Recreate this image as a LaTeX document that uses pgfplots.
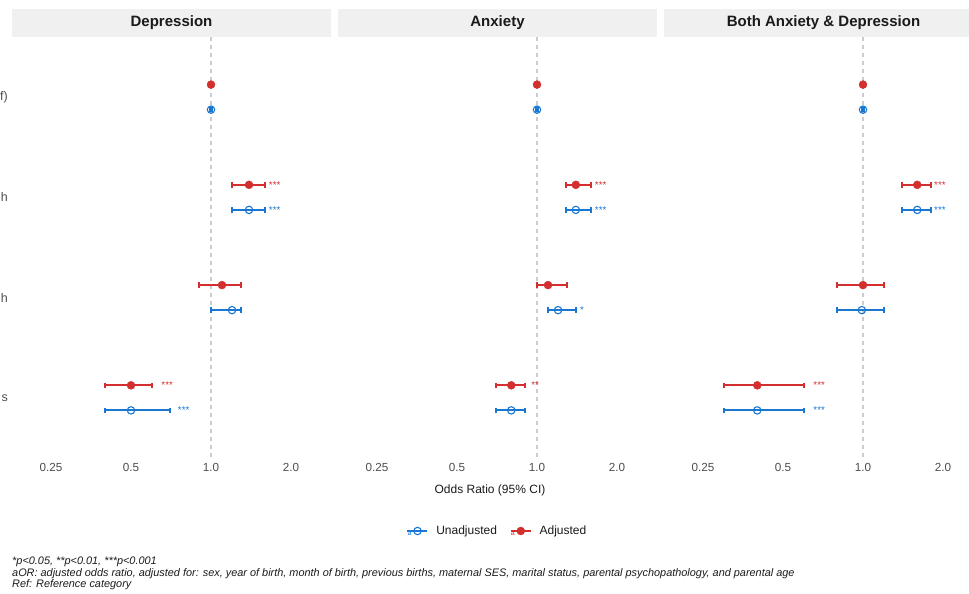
\documentclass[border=0pt]{standalone}
\usepackage{fontspec}
\setmainfont{Liberation Sans}
\usepackage{pgfplots}
\pgfplotsset{compat=1.18}
\definecolor{adjc}{HTML}{D32F2F}
\definecolor{unadjc}{HTML}{1976D2}
\definecolor{stripc}{HTML}{F0F0F0}
\definecolor{tickc}{HTML}{4D4D4D}
\definecolor{refc}{HTML}{CCCCCC}
\definecolor{titc}{HTML}{1A1A1A}

\pgfplotsset{
  myci/.style={line width=1.9pt, mark=|, mark size=2.8pt, mark options={line width=1.9pt, solid}},
  myadjpt/.style={only marks, mark=*, mark size=4pt, color=adjc},
  myunadjpt/.style={only marks, mark=o, mark size=3.7pt, color=unadjc, mark options={line width=1.1pt}},
  mystars/.style={draw=none, mark=none, nodes near coords, point meta=explicit symbolic,
    nodes near coords style={anchor=west, inner sep=0pt, font=\fontsize{9.8}{9.8}\selectfont, text=#1}},
  myref/.style={color=refc, dash pattern=on 4pt off 4pt, line width=1.1pt, forget plot},
}

\begin{document}
\begin{tikzpicture}
\path[use as bounding box] (0pt,0pt) rectangle (969pt,594pt);
\clip (0pt,0pt) rectangle (969pt,594pt);

% facet strips
\fill[stripc] (12pt,557pt) rectangle (331pt,585pt);
\fill[stripc] (338pt,557pt) rectangle (657pt,585pt);
\fill[stripc] (664pt,557pt) rectangle (983pt,585pt);
\node[font=\bfseries\fontsize{15}{17}\selectfont, text=titc] at (171.5pt,571pt) {Depression};
\node[font=\bfseries\fontsize{15}{17}\selectfont, text=titc] at (497.5pt,571pt) {Anxiety};
\node[font=\bfseries\fontsize{15}{17}\selectfont, text=titc] at (823.5pt,571pt) {Both Anxiety \& Depression};

% ---------------- Depression ----------------
\begin{axis}[
    xmode=log, log basis x=2,
    xmin=0.17832, xmax=2.82843,
    ymin=0.4, ymax=4.6, y dir=reverse,
    scale only axis, width=319pt, height=421pt,
    axis line style={draw=none}, major tick length=0pt,
    xtick={0.25,0.5,1,2}, xticklabels={0.25,0.5,1.0,2.0},
    xticklabel style={font=\fontsize{11.7}{13}\selectfont, text=tickc, yshift=-1.5pt},
    clip=false, unbounded coords=jump,
    ytick={1,2,3,4},
    yticklabels={f), h, h, s},
    yticklabel style={font=\fontsize{12.5}{14}\selectfont, text=tickc, anchor=east, inner sep=0pt, xshift=-4pt},
    at={(12pt,136pt)}, anchor=south west]
\addplot[myref] coordinates {(1,0.4) (1,4.6)};
\addplot[myci, color=unadjc] table {
x y
0.99 1.125
1.01 1.125
nan nan
1.20 2.125
1.60 2.125
nan nan
1.00 3.125
1.30 3.125
nan nan
0.40 4.125
0.70 4.125
};
\addplot[myci, color=adjc] table {
x y
1.20 1.875
1.60 1.875
nan nan
0.90 2.875
1.30 2.875
nan nan
0.40 3.875
0.60 3.875
};
\addplot[myunadjpt] coordinates {(1,1.125) (1.39,2.125) (1.20,3.125) (0.50,4.125)};
\addplot[myadjpt] coordinates {(1,0.875) (1.39,1.875) (1.10,2.875) (0.50,3.875)};
\addplot[mystars=adjc] table[meta=s] {
x y s
1.65 1.875 ***
0.65 3.875 ***
};
\addplot[mystars=unadjc] table[meta=s] {
x y s
1.65 2.125 ***
0.75 4.125 ***
};
\end{axis}

% ---------------- Anxiety ----------------
\begin{axis}[
    xmode=log, log basis x=2,
    xmin=0.17832, xmax=2.82843,
    ymin=0.4, ymax=4.6, y dir=reverse,
    scale only axis, width=319pt, height=421pt,
    axis line style={draw=none}, major tick length=0pt,
    xtick={0.25,0.5,1,2}, xticklabels={0.25,0.5,1.0,2.0},
    xticklabel style={font=\fontsize{11.7}{13}\selectfont, text=tickc, yshift=-1.5pt},
    ytick=\empty,
    clip=false, unbounded coords=jump,
    legend style={at={(0.5,-0.1734)}, anchor=center, draw=none, fill=none,
      font=\fontsize{12}{14}\selectfont, text=titc,
      /tikz/every odd column/.append style={column sep=6pt},
      /tikz/every even column/.append style={column sep=11pt}},
    legend columns=2,
    at={(338pt,136pt)}, anchor=south west]
\addlegendimage{legend image code/.code={
  \draw[unadjc, line width=1.6pt] (0pt,0pt) -- (20pt,0pt);
  \draw[unadjc, line width=1.1pt] (10pt,0pt) circle (3.7pt);
  \node[text=unadjc, font=\fontsize{7}{7}\selectfont, inner sep=0pt] at (2pt,-3.8pt) {a};
}}
\addlegendentry{Unadjusted}
\addlegendimage{legend image code/.code={
  \draw[adjc, line width=1.6pt] (0pt,0pt) -- (20pt,0pt);
  \fill[adjc] (10pt,0pt) circle (4pt);
  \node[text=adjc, font=\fontsize{7}{7}\selectfont, inner sep=0pt] at (2pt,-3.8pt) {a};
}}
\addlegendentry{Adjusted}
\addplot[myref] coordinates {(1,0.4) (1,4.6)};
\addplot[myci, color=unadjc, forget plot] table {
x y
0.99 1.125
1.01 1.125
nan nan
1.29 2.125
1.60 2.125
nan nan
1.10 3.125
1.40 3.125
nan nan
0.70 4.125
0.90 4.125
};
\addplot[myci, color=adjc, forget plot] table {
x y
1.29 1.875
1.60 1.875
nan nan
1.00 2.875
1.30 2.875
nan nan
0.70 3.875
0.90 3.875
};
\addplot[myunadjpt, forget plot] coordinates {(1,1.125) (1.40,2.125) (1.20,3.125) (0.80,4.125)};
\addplot[myadjpt, forget plot] coordinates {(1,0.875) (1.40,1.875) (1.10,2.875) (0.80,3.875)};
\addplot[mystars=adjc, forget plot] table[meta=s] {
x y s
1.65 1.875 ***
0.95 3.875 **
};
\addplot[mystars=unadjc, forget plot] table[meta=s] {
x y s
1.65 2.125 ***
1.45 3.125 *
};
\end{axis}

% ---------------- Both ----------------
\begin{axis}[
    xmode=log, log basis x=2,
    xmin=0.17832, xmax=2.82843,
    ymin=0.4, ymax=4.6, y dir=reverse,
    scale only axis, width=319pt, height=421pt,
    axis line style={draw=none}, major tick length=0pt,
    xtick={0.25,0.5,1,2}, xticklabels={0.25,0.5,1.0,2.0},
    xticklabel style={font=\fontsize{11.7}{13}\selectfont, text=tickc, yshift=-1.5pt},
    ytick=\empty,
    clip=false, unbounded coords=jump,
    at={(664pt,136pt)}, anchor=south west]
\addplot[myref] coordinates {(1,0.4) (1,4.6)};
\addplot[myci, color=unadjc] table {
x y
0.99 1.125
1.01 1.125
nan nan
1.40 2.125
1.80 2.125
nan nan
0.80 3.125
1.20 3.125
nan nan
0.30 4.125
0.60 4.125
};
\addplot[myci, color=adjc] table {
x y
1.40 1.875
1.80 1.875
nan nan
0.80 2.875
1.20 2.875
nan nan
0.30 3.875
0.60 3.875
};
\addplot[myunadjpt] coordinates {(1,1.125) (1.60,2.125) (0.99,3.125) (0.40,4.125)};
\addplot[myadjpt] coordinates {(1,0.875) (1.60,1.875) (1.00,2.875) (0.40,3.875)};
\addplot[mystars=adjc] table[meta=s] {
x y s
1.85 1.875 ***
0.65 3.875 ***
};
\addplot[mystars=unadjc] table[meta=s] {
x y s
1.85 2.125 ***
0.65 4.125 ***
};
\end{axis}

% axis title
\node[font=\fontsize{12}{14}\selectfont, text=titc] at (490pt,104pt) {Odds Ratio (95\% CI)};

% caption
\node[anchor=west, inner sep=0pt, font=\itshape\fontsize{10.9}{12}\selectfont, text=titc] at (12pt,32.5pt) {*p<0.05, **p<0.01, ***p<0.001};
\node[anchor=west, inner sep=0pt, font=\itshape\fontsize{10.9}{12}\selectfont, text=titc] at (12pt,20.5pt) {aOR: adjusted odds ratio, adjusted for: sex, year of birth, month of birth, previous births, maternal SES, marital status, parental psychopathology, and parental age};
\node[anchor=west, inner sep=0pt, font=\itshape\fontsize{10.9}{12}\selectfont, text=titc] at (12pt,9pt) {Ref: Reference category};
\end{tikzpicture}
\end{document}
